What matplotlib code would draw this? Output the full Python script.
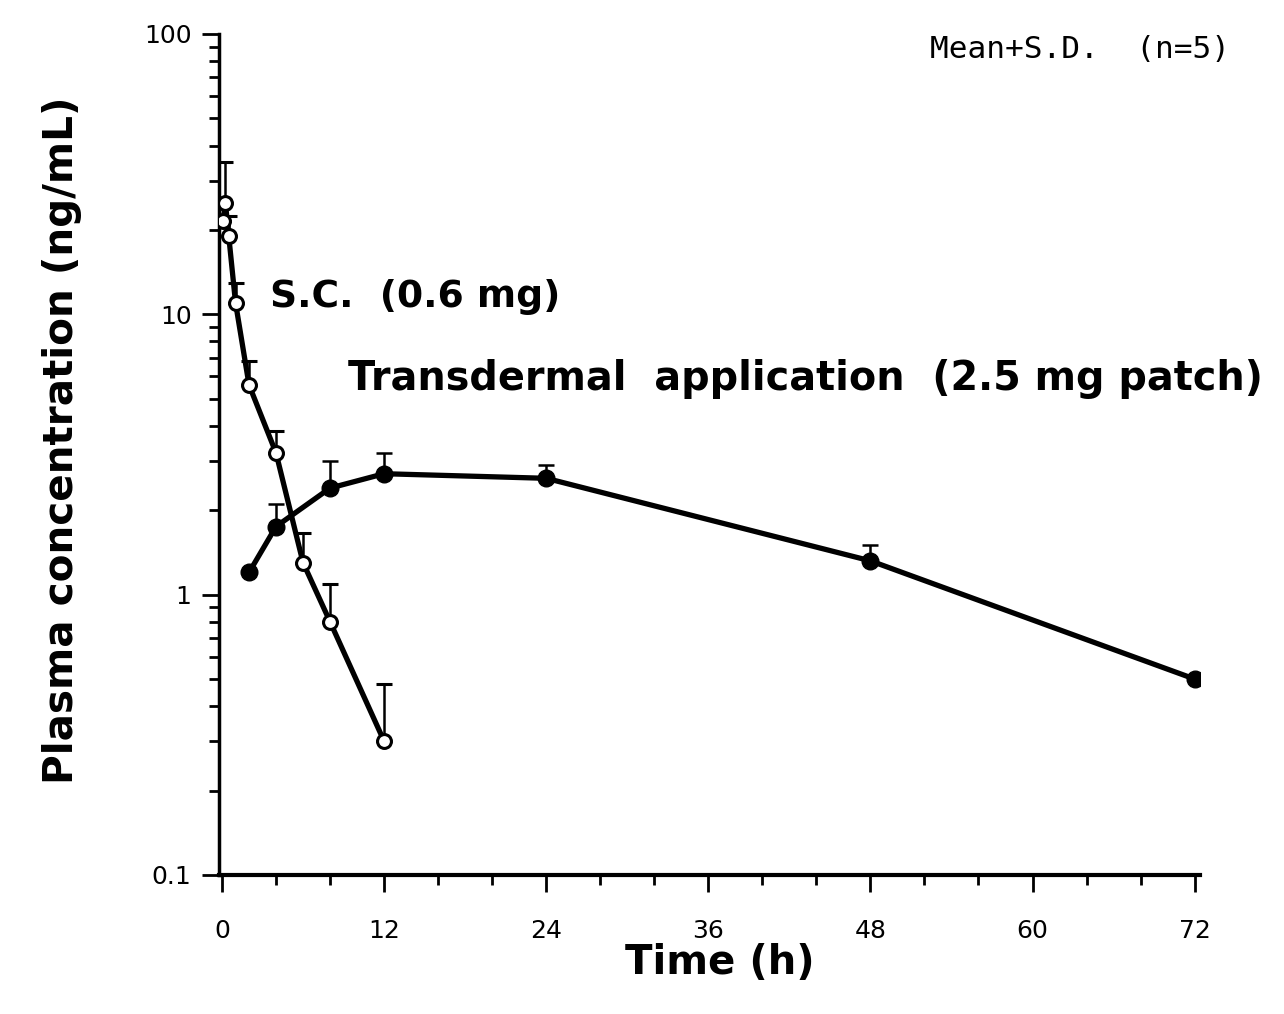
import numpy as np
import matplotlib.pyplot as plt
from matplotlib import font_manager
from matplotlib.ticker import MultipleLocator, LogLocator, FixedLocator, FixedFormatter, NullFormatter

# Сжатый вариант DejaVu для крупных подписей, если он установлен
fonts = font_manager.fontManager.ttflist
has_cond = any(f.name == 'DejaVu Sans' and f.stretch == 'condensed' and f.weight == 'bold'
               for f in fonts)
stretch = 'condensed' if has_cond else 'normal'
plt.rcParams['font.family'] = ['DejaVu Sans']

# Подкожное введение (0.6 мг)
sc_time = [0.083, 0.25, 0.5, 1, 2, 4, 6, 8, 12]
sc_mean = [21.5, 25.0, 19.0, 11.0, 5.6, 3.2, 1.3, 0.8, 0.3]
sc_sd = [0.0, 10.0, 3.5, 1.9, 1.2, 0.65, 0.36, 0.29, 0.18]

# Трансдермальный пластырь (2.5 мг)
td_time = [2, 4, 8, 12, 24, 48, 72]
td_mean = [1.2, 1.75, 2.4, 2.7, 2.6, 1.32, 0.5]
td_sd = [0.0, 0.35, 0.6, 0.5, 0.3, 0.18, 0.0]

x_ticks = [0, 12, 24, 36, 48, 60, 72]
y_ticks = [0.1, 1, 10, 100]
y_labels = ['0.1', '1', '10', '100']

fig = plt.figure(figsize=(12.84, 10.14), dpi=100)
ax = fig.add_axes([0.1708, 0.1371, 0.7638, 0.8294])

# Погрешности только вверх
ax.errorbar(sc_time, sc_mean, yerr=[np.zeros(len(sc_sd)), sc_sd], color='black',
            lw=3.8, elinewidth=1.8, capsize=6, capthick=1.8, marker='o', ms=10,
            mfc='white', mec='black', mew=2.2, zorder=3)
ax.errorbar(td_time, td_mean, yerr=[np.zeros(len(td_sd)), td_sd], color='black',
            lw=3.8, elinewidth=1.8, capsize=6, capthick=1.8, marker='o', ms=12,
            mfc='black', mec='black', zorder=4)

ax.set_yscale('log')
ax.set_ylim(0.1, 100)
ax.set_xlim(-0.2, 72.4)

ax.xaxis.set_major_locator(FixedLocator(x_ticks))
ax.xaxis.set_minor_locator(MultipleLocator(4))
ax.yaxis.set_major_locator(FixedLocator(y_ticks))
ax.yaxis.set_major_formatter(FixedFormatter(y_labels))
ax.yaxis.set_minor_locator(LogLocator(base=10, subs=np.arange(2, 10)))
ax.yaxis.set_minor_formatter(NullFormatter())

for side in ['top', 'right']:
    ax.spines[side].set_visible(False)
ax.spines['left'].set_linewidth(2.5)
ax.spines['bottom'].set_linewidth(3)

ax.tick_params(axis='both', which='major', direction='out', length=12, width=2,
               labelsize=18)
ax.tick_params(axis='both', which='minor', direction='out', length=7, width=2)
ax.tick_params(axis='x', which='major', pad=20)
ax.tick_params(axis='y', which='major', pad=8)

big = dict(fontsize=32, fontweight='bold', fontstretch=stretch)


def fit_width(t, width_px):
    # подгоняем размер шрифта под заданную ширину в пикселях
    fig.canvas.draw()
    w = t.get_window_extent().width
    t.set_fontsize(t.get_fontsize() * width_px / w)


t1 = ax.text(3.55, 11.5, 'S.C.  (0.6 mg)', ha='left', va='center', **big)
t2 = ax.text(9.3, 5.9, 'Transdermal  application  (2.5 mg patch)',
             ha='left', va='center', **big)
t3 = fig.text(62 / 1284, 1 - 440 / 1014, 'Plasma concentration (ng/mL)',
              rotation=90, ha='center', va='center', **big)
t4 = fig.text(720 / 1284, 1 - 963 / 1014, 'Time (h)', ha='center', va='center', **big)
fit_width(t1, 290)
fit_width(t2, 914)
fit_width(t4, 190)
fig.canvas.draw()
h = t3.get_window_extent().height
t3.set_fontsize(t3.get_fontsize() * 690 / h)

t5 = fig.text(930 / 1284, 1 - 50 / 1014, 'Mean+S.D.  (n=5)', fontsize=20,
              family='DejaVu Sans Mono', ha='left', va='center')
fit_width(t5, 300)

fig.savefig('out.png', dpi=100)
